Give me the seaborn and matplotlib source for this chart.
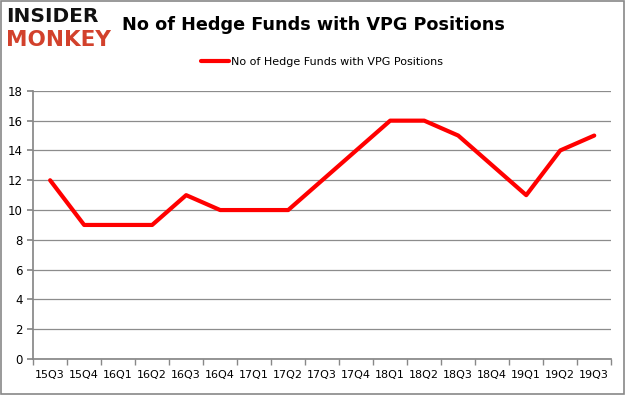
import matplotlib
matplotlib.use("Agg")
import matplotlib.pyplot as plt
import seaborn as sns
import pandas as pd
import numpy as np

# Daten
QUARTERS = ["15Q3", "15Q4", "16Q1", "16Q2", "16Q3", "16Q4", "17Q1", "17Q2", "17Q3",
            "17Q4", "18Q1", "18Q2", "18Q3", "18Q4", "19Q1", "19Q2", "19Q3"]
FUNDS = [12, 9, 9, 9, 11, 10, 10, 10, 12, 14, 16, 16, 15, 13, 11, 14, 15]
Y_TICKS = [0, 2, 4, 6, 8, 10, 12, 14, 16, 18]
LABEL = "No of Hedge Funds with VPG Positions"

sns.set_theme(style="white")
plt.rcParams["font.family"] = ["DejaVu Sans"]
plt.rcParams["text.color"] = "black"
plt.rcParams["xtick.color"] = "black"
plt.rcParams["ytick.color"] = "black"

df = pd.DataFrame({"quarter": QUARTERS, "funds": FUNDS})
df["pos"] = np.arange(len(df))

fig = plt.figure(figsize=(6.25, 3.95), dpi=100)
fig.patch.set_facecolor("white")
ax = fig.add_axes([0.053, 0.091, 0.925, 0.679])

sns.lineplot(data=df, x="pos", y="funds", color="#ff0000", linewidth=3,
             label=LABEL, ax=ax)

ax.set_xlim(-0.5, len(QUARTERS) - 0.5)
ax.set_ylim(0, 18)
ax.set_yticks(Y_TICKS)
ax.set_xticks(df["pos"])
ax.set_xticklabels(QUARTERS, fontsize=8)
ax.set_xticks(np.arange(-0.5, len(QUARTERS)), minor=True)
ax.tick_params(axis="x", which="major", length=0, pad=8)
ax.tick_params(axis="x", which="minor", length=4, color="#888888", bottom=True)
ax.tick_params(axis="y", length=4, color="#888888", left=True, labelsize=8.5)
ax.set_xlabel("")
ax.set_ylabel("")
ax.yaxis.grid(True, color="#8c8c8c", linewidth=0.9)
ax.set_axisbelow(True)
for s in ["top", "right"]:
    ax.spines[s].set_visible(False)
for s in ["left", "bottom"]:
    ax.spines[s].set_color("#888888")

ax.legend(loc="center", bbox_to_anchor=(0.5, 1.108), frameon=False,
          fontsize=8, handlelength=2.5, handletextpad=0.2)

fig.text(0.195, 0.937, "No of Hedge Funds with VPG Positions", fontsize=12.7,
         fontweight="bold", va="center", ha="left", color="black")
fig.text(0.01, 0.957, "INSIDER", fontsize=14.5, fontweight="black", va="center",
         ha="left", color="#111111")
fig.text(0.01, 0.899, "MONKEY", fontsize=15.5, fontweight="black", va="center",
         ha="left", color="#d2412c")

fig.add_artist(plt.Rectangle((0.0015, 0.002), 0.997, 0.996, transform=fig.transFigure,
                             fill=False, edgecolor="#888888", linewidth=1.2))

fig.savefig("out.png", dpi=100, facecolor="white")
